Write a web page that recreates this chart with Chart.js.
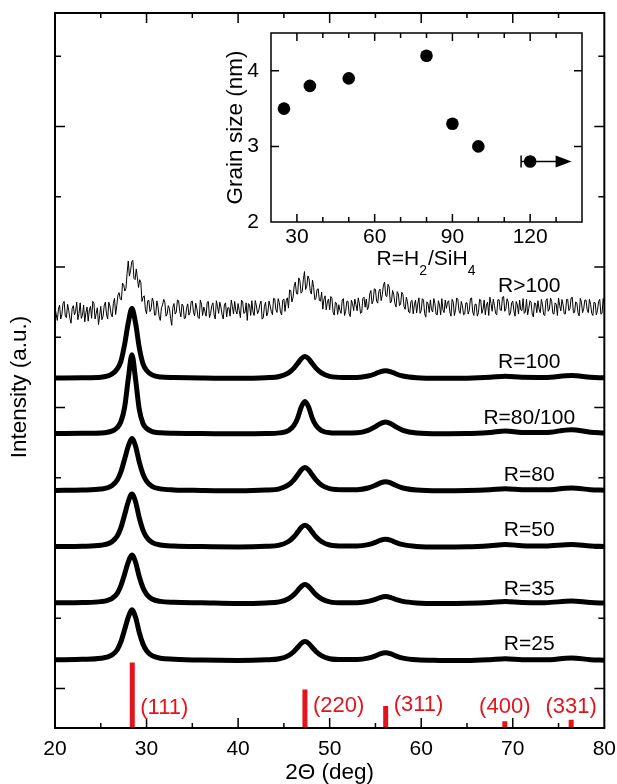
<!DOCTYPE html>
<html>
<head>
<meta charset="utf-8">
<script src="https://cdn.jsdelivr.net/npm/chart.js@4.4.1/dist/chart.umd.min.js"></script>
<style>
  body { margin: 0; background: #fff; }
  #wrap { position: relative; width: 617px; height: 784px; }
  #wrap canvas { position: absolute; left: 0; top: 0; }
</style>
</head>
<body>
<div id="wrap">
  <canvas id="xrd" width="617" height="784"></canvas>
  <canvas id="grain" width="617" height="784"></canvas>
</div>
<script>
// XRD scans for several H2/SiH4 ratios, with grain size inset

const FONT = '"Liberation Sans", Arial, Helvetica, sans-serif';
const RED = '#e3141b';

// 2Θ grid shared by the smooth scans (deg)
const twoTheta = [20, 23, 25, 26.2, 26.8, 27.2, 27.6, 28.0, 28.4, 28.8,
  29.2, 29.6, 30.0, 30.6, 31.5, 33, 36, 40, 43, 44.5,
  45.5, 46.1, 46.5, 46.9, 47.3, 47.7, 48.1, 48.5, 49.1, 50,
  51.5, 53, 54.2, 55, 55.5, 56.1, 56.7, 57.2, 58, 59.5,
  62, 65, 67.5, 69.2, 71, 73.5, 76.4, 78.5, 80];

// intensities, already stacked (a.u.)
const r25 = [4.1, 4.15, 4.3, 4.74, 5.52, 6.66, 8.36, 10.14, 11.2, 10.14,
  8.0, 6.37, 5.38, 4.67, 4.31, 4.17, 4.05, 4.0, 4.08, 4.23,
  4.68, 5.27, 5.84, 6.43, 6.7, 6.43, 5.84, 5.27, 4.68, 4.24,
  4.12, 4.13, 4.33, 4.66, 4.94, 5.1, 4.94, 4.66, 4.33, 4.08,
  4.0, 3.98, 4.1, 4.25, 4.1, 4.08, 4.35, 4.11, 4.03];
const r35 = [12.2, 12.25, 12.37, 12.81, 13.56, 14.65, 16.28, 17.98, 19.0, 17.98,
  15.94, 14.38, 13.42, 12.74, 12.4, 12.27, 12.2, 12.1, 12.18, 12.33,
  12.78, 13.37, 13.94, 14.53, 14.8, 14.53, 13.94, 13.37, 12.78, 12.34,
  12.21, 12.22, 12.4, 12.7, 12.95, 13.1, 12.95, 12.7, 12.4, 12.18,
  12.1, 12.13, 12.25, 12.4, 12.25, 12.22, 12.45, 12.24, 12.17];
const r50 = [20.2, 20.25, 20.39, 20.88, 21.7, 22.9, 24.7, 26.58, 27.7, 26.58,
  24.33, 22.6, 21.55, 20.8, 20.43, 20.28, 20.2, 20.15, 20.24, 20.41,
  20.93, 21.61, 22.26, 22.94, 23.25, 22.94, 22.26, 21.61, 20.93, 20.43,
  20.28, 20.28, 20.48, 20.81, 21.09, 21.25, 21.09, 20.81, 20.48, 20.23,
  20.15, 20.18, 20.33, 20.5, 20.33, 20.27, 20.5, 20.29, 20.22];
const r80 = [28.2, 28.25, 28.39, 28.87, 29.68, 30.86, 32.64, 34.49, 35.6, 34.49,
  32.27, 30.57, 29.53, 28.79, 28.42, 28.27, 28.2, 28.15, 28.25, 28.43,
  28.98, 29.7, 30.39, 31.12, 31.45, 31.12, 30.39, 29.7, 28.98, 28.45,
  28.29, 28.31, 28.54, 28.93, 29.25, 29.45, 29.25, 28.93, 28.54, 28.25,
  28.15, 28.18, 28.3, 28.45, 28.3, 28.28, 28.55, 28.31, 28.23];
const r80_100 = [36.3, 36.33, 36.38, 36.64, 37.14, 37.98, 40.0, 44.03, 47.5, 44.03,
  39.77, 37.76, 37.03, 36.58, 36.4, 36.33, 36.3, 36.25, 36.29, 36.39,
  36.71, 37.45, 38.5, 40.07, 40.85, 40.07, 38.5, 37.45, 36.71, 36.41,
  36.36, 36.4, 36.76, 37.27, 37.7, 37.95, 37.7, 37.27, 36.76, 36.38,
  36.27, 36.29, 36.45, 36.65, 36.45, 36.43, 36.85, 36.49, 36.37];
const r100 = [44.2, 44.25, 44.32, 44.74, 45.49, 46.58, 48.95, 52.02, 54.1, 52.02,
  48.56, 46.28, 45.29, 44.65, 44.35, 44.27, 44.2, 44.15, 44.24, 44.41,
  44.93, 45.61, 46.26, 46.94, 47.25, 46.94, 46.26, 45.61, 44.93, 44.43,
  44.28, 44.28, 44.48, 44.81, 45.09, 45.25, 45.09, 44.81, 44.48, 44.23,
  44.15, 44.18, 44.3, 44.45, 44.3, 44.28, 44.55, 44.31, 44.23];

// R>100 is the raw noisy scan, 0.125 deg steps starting at 20 deg (one row per degree)
const noisyStart = 20, noisyStep = 0.125;
const rOver100 = [
  54.2, 53.3, 52.4, 54.0, 54.6, 52.6, 53.2, 54.8,
  55.1, 53.0, 52.8, 54.7, 53.8, 52.7, 52.0, 54.1,
  54.5, 53.2, 53.7, 55.0, 52.5, 53.4, 54.9, 52.7,
  53.1, 54.6, 52.2, 53.5, 54.3, 52.3, 53.9, 54.4,
  52.7, 55.1, 54.8, 52.6, 53.4, 54.2, 51.8, 53.1,
  54.4, 52.5, 53.0, 54.5, 55.0, 53.3, 52.6, 55.0,
  54.45, 53.33, 52.9, 54.83, 55.55, 53.25, 54.55, 56.0,
  56.35, 55.48, 55.3, 57.7, 57.5, 56.58, 56.95, 59.1,
  60.85, 58.7, 59.45, 60.7, 60.95, 58.38, 58.2, 59.73,
  58.45, 57.08, 58.2, 57.8, 55.1, 55.75, 55.9, 53.93,
  53.35, 55.2, 55.25, 53.65, 54.05, 55.58, 55.1, 53.15,
  53.2, 55.18, 54.35, 52.93, 52.4, 54.2, 54.6, 55.4,
  55.0, 53.0, 53.3, 54.5, 54.1, 52.7, 51.7, 54.3,
  54.8, 53.3, 53.6, 55.3, 55.2, 53.7, 52.9, 54.73,
  54.45, 52.65, 52.75, 54.15, 54.75, 53.15, 53.55, 55.05,
  55.15, 53.55, 53.05, 54.85, 54.05, 52.85, 52.65, 55.28,
  54.7, 53.1, 54.3, 53.7, 53.0, 55.0, 55.1, 52.8,
  53.4, 54.5, 54.9, 53.2, 52.6, 55.2, 54.4, 53.4,
  55.0, 54.3, 53.2, 52.6, 54.6, 54.9, 52.9, 54.2,
  54.2, 53.0, 55.3, 54.4, 53.3, 55.1, 53.8, 53.3,
  54.8, 53.8, 52.8, 55.3, 55.0, 53.4, 53.5, 54.9,
  52.4, 54.8, 54.6, 53.1, 55.2, 53.6, 53.1, 55.23,
  54.45, 53.36, 53.76, 54.67, 55.17, 52.58, 52.78, 54.39,
  55.0, 53.02, 53.53, 55.15, 54.47, 53.69, 53.21, 55.54,
  55.47, 53.91, 53.54, 55.5, 54.95, 53.61, 53.17, 55.27,
  55.46, 53.68, 55.19, 55.62, 54.15, 56.74, 56.63, 55.04,
  55.65, 57.3, 57.85, 56.2, 56.15, 58.45, 58.05, 56.28,
  56.5, 58.18, 59.35, 56.8, 57.25, 58.73, 58.3, 56.63,
  56.15, 58.13, 57.1, 55.35, 55.5, 56.8, 56.9, 55.23,
  55.15, 56.43, 54.0, 55.4, 55.9, 53.9, 55.0, 55.45,
  53.9, 55.8, 55.5, 53.58, 53.15, 55.0, 54.86, 53.25,
  54.63, 53.82, 53.4, 55.3, 55.5, 53.1, 53.7, 55.12,
  55.13, 53.34, 52.95, 55.27, 54.78, 53.8, 55.42, 54.65,
  53.77, 55.61, 54.75, 53.4, 53.55, 55.53, 55.7, 54.28,
  55.45, 53.94, 54.33, 56.14, 56.65, 54.76, 55.17, 56.9,
  56.82, 55.14, 54.85, 56.55, 56.85, 55.22, 56.08, 57.42,
  57.85, 55.93, 55.8, 57.54, 57.17, 54.88, 55.08, 56.67,
  56.05, 54.83, 54.3, 56.5, 56.2, 54.5, 54.7, 56.42,
  56.13, 54.35, 53.97, 55.71, 55.05, 53.6, 53.45, 55.1,
  55.25, 53.33, 54.6, 55.28, 53.45, 54.74, 55.62, 53.41,
  53.8, 55.49, 55.28, 53.37, 52.86, 55.05, 54.74, 53.53,
  55.32, 53.91, 53.6, 55.5, 54.8, 53.3, 53.2, 55.2,
  54.6, 53.2, 55.5, 53.9, 53.5, 55.3, 54.1, 55.0,
  55.2, 53.6, 53.0, 55.4, 55.0, 53.1, 53.9, 55.6,
  55.4, 53.8, 53.4, 55.1, 54.5, 53.2, 53.3, 54.9,
  54.9, 53.3, 53.8, 55.5, 55.6, 53.6, 53.1, 54.7,
  54.7, 53.0, 53.5, 55.4, 55.3, 53.4, 54.0, 55.3,
  53.2, 54.6, 55.0, 53.1, 55.7, 54.8, 53.7, 55.43,
  54.55, 53.38, 53.2, 55.33, 55.35, 53.88, 53.8, 55.7,
  55.8, 53.7, 54.1, 55.48, 55.05, 53.13, 53.4, 54.88,
  55.15, 53.73, 53.0, 55.1, 54.6, 53.3, 55.3, 53.9,
  53.8, 55.5, 53.4, 53.6, 55.4, 53.2, 54.1, 55.2,
  55.0, 53.3, 52.9, 54.9, 54.8, 53.5, 55.2, 54.0,
  53.5, 55.4, 54.6, 53.2, 53.1, 55.2, 55.5, 53.7,
  54.0, 55.6, 55.1, 53.4, 53.3, 54.9, 54.7, 53.1,
  55.6, 54.53, 53.75, 55.38, 54.6, 53.33, 53.35, 55.38,
  55.4, 53.8, 54.1, 55.6, 55.7, 53.48, 53.55, 55.03,
  54.9, 53.48, 53.05, 55.53, 55.0, 53.5, 54.1, 55.3,
  55.3, 53.9, 53.5, 55.4, 54.7, 53.4, 53.1, 55.0,
  54.9, 53.2, 53.8, 55.1, 55.4, 53.3, 53.4, 55.5,
  54.6];

const curveNames = ['R=25', 'R=35', 'R=50', 'R=80', 'R=80/100', 'R=100', 'R>100'];
const nameLevel = [6.3, 14.2, 22.5, 30.3, 38.5, 46.5, 57.3];   // a.u., where each name sits
const nameAt = 71.8;                                            // deg

// Si reference reflections
const peakPos = [28.44, 47.30, 56.12, 69.13, 76.38];
const peakTop = [3.7, -0.15, -2.5, -4.65, -4.45];
const peakNames = ['(111)', '(220)', '(311)', '(400)', '(331)'];

// inset: grain size vs dilution
const ratio = [25, 35, 50, 80, 90, 100, 120];
const grain = [3.5, 3.8, 3.9, 4.2, 3.3, 3.0, 2.8];
const limitFrom = 116.5, limitTo = 136;   // last point is a lower bound (R>100)

const Y_MIN = -5.62, Y_MAX = 96.16;

const xy = (xs, ys) => ys.map((y, i) => ({ x: xs[i], y }));
const thick = (data) => ({
  data, borderColor: '#000', borderWidth: 5, pointRadius: 0,
  cubicInterpolationMode: 'monotone', borderJoinStyle: 'round', fill: false
});

const smooth = [r25, r35, r50, r80, r80_100, r100].map(s => thick(xy(twoTheta, s)));
const noisy = {
  data: rOver100.map((y, i) => ({ x: noisyStart + i * noisyStep, y })),
  borderColor: '#000', borderWidth: 1, pointRadius: 0, tension: 0, fill: false
};
const sticks = peakPos.map((p, i) => ({
  data: [{ x: p, y: Y_MIN }, { x: p, y: peakTop[i] }],
  borderColor: RED, borderWidth: 5, borderCapStyle: 'butt', pointRadius: 0, fill: false
}));

const mainDecor = {
  id: 'mainDecor',
  afterDatasetsDraw(chart) {
    const { ctx, chartArea: a, scales: { x, y } } = chart;
    ctx.save();
    ctx.strokeStyle = '#000';
    ctx.lineWidth = 1.5;
    ctx.beginPath();
    x.ticks.forEach(t => {
      if (t.value <= x.min || t.value >= x.max) return;
      const px = x.getPixelForValue(t.value);
      const len = t.value % 10 === 0 ? 10 : 5;
      ctx.moveTo(px, a.bottom); ctx.lineTo(px, a.bottom - len);
      ctx.moveTo(px, a.top); ctx.lineTo(px, a.top + len);
    });
    y.ticks.forEach(t => {
      const py = y.getPixelForValue(t.value);
      const len = t.value % 20 === 0 ? 10 : 6;
      ctx.moveTo(a.left, py); ctx.lineTo(a.left + len, py);
      ctx.moveTo(a.right, py); ctx.lineTo(a.right - len, py);
    });
    ctx.stroke();
    ctx.lineWidth = 2;
    ctx.strokeRect(a.left, a.top, a.right - a.left, a.bottom - a.top);

    ctx.font = '21px ' + FONT;
    ctx.fillStyle = '#000';
    ctx.textAlign = 'center';
    ctx.textBaseline = 'middle';
    curveNames.forEach((n, i) => {
      ctx.fillText(n, x.getPixelForValue(nameAt), y.getPixelForValue(nameLevel[i]));
    });

    ctx.save();
    ctx.font = '22.5px ' + FONT;
    ctx.translate(20, 387);
    ctx.rotate(-Math.PI / 2);
    ctx.fillText('Intensity (a.u.)', 0, 0);
    ctx.restore();

    // hkl labels: first three sit right of their stick, the small ones above it
    ctx.fillStyle = RED;
    ctx.font = '22px ' + FONT;
    const dy = [2, 0, -1.5, 0.5, 0.5];
    peakNames.forEach((n, i) => {
      const px = x.getPixelForValue(peakPos[i]);
      const beside = i < 3;
      ctx.textAlign = beside ? 'left' : 'center';
      ctx.fillText(n, beside ? px + 8 : px, y.getPixelForValue(-2.5) + dy[i]);
    });
    ctx.restore();
  }
};

new Chart(document.getElementById('xrd'), {
  type: 'line',
  data: { datasets: [...smooth, noisy, ...sticks] },
  options: {
    responsive: false,
    animation: false,
    events: [],
    layout: { padding: { top: 13, right: 12, left: 0, bottom: 0 } },
    plugins: { legend: { display: false }, tooltip: { enabled: false } },
    scales: {
      x: {
        type: 'linear', min: 20, max: 80,
        grid: { display: false }, border: { display: false },
        ticks: {
          stepSize: 5, autoSkip: false, maxRotation: 0, padding: 1, color: '#000',
          font: { family: FONT, size: 21 },
          callback: v => (v % 10 === 0 ? v : '')
        },
        title: {
          display: true, text: '2Θ (deg)', color: '#000',
          font: { family: FONT, size: 22.5, lineHeight: 1 }, padding: { top: 0, bottom: 0 }
        },
        afterFit: s => { s.height = 56; }
      },
      y: {
        min: Y_MIN, max: Y_MAX,
        grid: { display: false }, border: { display: false },
        ticks: { display: false, stepSize: 10, includeBounds: false },
        afterFit: s => { s.width = 55; }
      }
    }
  },
  plugins: [mainDecor]
});

const insetDecor = {
  id: 'insetDecor',
  afterDatasetsDraw(chart) {
    const { ctx, chartArea: a, scales: { x, y } } = chart;
    ctx.save();
    ctx.strokeStyle = '#000';
    ctx.fillStyle = '#000';
    ctx.lineWidth = 1.5;
    ctx.beginPath();
    x.ticks.forEach(t => {
      if (t.value <= x.min || t.value >= x.max) return;
      const px = x.getPixelForValue(t.value);
      const len = t.value % 30 === 0 ? 8 : 5;
      ctx.moveTo(px, a.bottom); ctx.lineTo(px, a.bottom - len);
      ctx.moveTo(px, a.top); ctx.lineTo(px, a.top + len);
    });
    y.ticks.forEach(t => {
      if (t.value <= y.min || t.value >= y.max) return;
      const py = y.getPixelForValue(t.value);
      ctx.moveTo(a.left, py); ctx.lineTo(a.left + 8, py);
      ctx.moveTo(a.right, py); ctx.lineTo(a.right - 8, py);
    });
    ctx.stroke();
    ctx.strokeRect(a.left, a.top, a.right - a.left, a.bottom - a.top);

    // lower-bound marker on the last point
    const ay = y.getPixelForValue(grain[grain.length - 1]);
    const x0 = x.getPixelForValue(limitFrom), x1 = x.getPixelForValue(limitTo);
    ctx.beginPath();
    ctx.moveTo(x0, ay - 6); ctx.lineTo(x0, ay + 6);
    ctx.moveTo(x0, ay); ctx.lineTo(x1 - 14, ay);
    ctx.stroke();
    ctx.beginPath();
    ctx.moveTo(x1, ay); ctx.lineTo(x1 - 16, ay - 6); ctx.lineTo(x1 - 16, ay + 6);
    ctx.closePath();
    ctx.fill();

    // x title with subscripts
    const big = '21px ' + FONT, small = '14px ' + FONT;
    const parts = [['R=H', big, 0], ['2', small, 10], ['/SiH', big, 0], ['4', small, 10]];
    let w = 0;
    parts.forEach(p => { ctx.font = p[1]; w += ctx.measureText(p[0]).width + (p[2] ? 1 : 0); });
    let cx = (a.left + a.right) / 2 - w / 2;
    ctx.textAlign = 'left';
    ctx.textBaseline = 'alphabetic';
    parts.forEach(p => {
      ctx.font = p[1];
      ctx.fillText(p[0], cx, 265 + p[2]);
      cx += ctx.measureText(p[0]).width + (p[2] ? 1 : 0);
    });
    ctx.restore();
  }
};

new Chart(document.getElementById('grain'), {
  type: 'scatter',
  data: {
    datasets: [{
      data: xy(ratio, grain),
      backgroundColor: '#000', borderWidth: 0, pointRadius: 6.3, showLine: false
    }]
  },
  options: {
    responsive: false,
    animation: false,
    events: [],
    layout: { padding: { left: 215, top: 33, right: 35, bottom: 532 } },
    plugins: { legend: { display: false }, tooltip: { enabled: false } },
    scales: {
      x: {
        type: 'linear', min: 20, max: 140,
        grid: { display: false }, border: { display: false },
        ticks: {
          stepSize: 10, autoSkip: false, maxRotation: 0, padding: -3, color: '#000',
          font: { family: FONT, size: 21, lineHeight: 1 },
          callback: v => (v % 30 === 0 ? v : '')
        },
        afterFit: s => { s.height = 30; }
      },
      y: {
        min: 2, max: 4.5,
        grid: { display: false }, border: { display: false },
        ticks: {
          stepSize: 1, includeBounds: false, padding: 4, color: '#000',
          font: { family: FONT, size: 21 }
        },
        title: {
          display: true, text: 'Grain size (nm)', color: '#000',
          font: { family: FONT, size: 22.5, lineHeight: 1 }, padding: { top: 10, bottom: 0 }
        },
        afterFit: s => { s.width = 56; }
      }
    }
  },
  plugins: [insetDecor]
});
</script>
</body>
</html>
